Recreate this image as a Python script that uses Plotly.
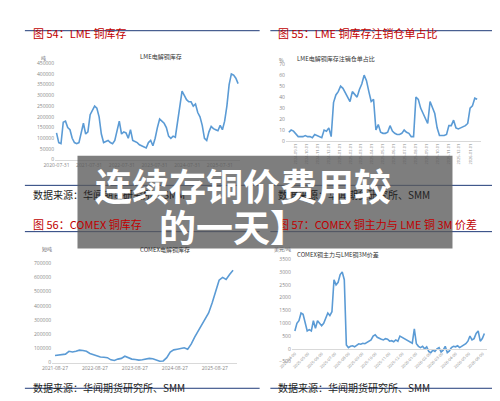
import plotly.graph_objects as go
import pandas as pd

lme_inv = [125,80,75,175,180,150,140,100,80,75,80,120,170,120,130,210,230,250,240,200,120,80,85,90,80,75,90,130,180,120,130,125,100,140,90,85,80,70,65,60,55,80,90,65,100,150,190,180,170,150,110,100,110,105,180,240,320,300,280,270,270,250,260,220,200,160,100,90,130,155,145,140,135,160,140,180,250,350,400,395,380,355]
lme_ratio = [8,10,9,6,4,4,4,5,4,4,3,6,5,4,3,10,9,12,4,35,42,45,50,48,44,40,36,45,42,40,47,52,60,55,45,36,38,10,15,8,7,7,8,14,9,7,6,6,7,10,8,7,4,4,40,38,30,25,20,16,36,30,25,12,5,5,5,6,14,14,19,12,11,12,13,14,16,30,32,39,38]
comex_inv = [50,55,60,60,80,75,80,88,85,80,65,55,45,40,38,35,20,15,25,30,45,35,25,22,18,20,25,30,28,20,10,12,35,75,90,95,100,105,95,130,180,220,270,300,350,420,500,580,600,585,620,650]
spread = [700,1000,1100,1400,1350,1000,700,750,700,1100,800,1100,1000,900,1000,1200,1400,1300,1450,2700,2500,2600,2900,3000,2700,150,50,100,120,80,150,200,180,220,200,250,300,350,500,550,450,400,380,350,400,380,300,320,280,350,300,500,450,400,350,300,250,220,780,200,100,50,100,0,80,-100,-150,-50,-100,0,50,-120,-50,100,-150,-80,50,100,80,120,50,100,150,200,300,500,350,400,600,700,300,400,600]

d1 = pd.date_range("2020-07-31", "2026-02-20", periods=len(lme_inv))
d2 = pd.date_range("2024-08-13", "2026-01-20", periods=len(lme_ratio))
d3 = pd.date_range("2021-08-27", "2026-02-10", periods=len(comex_inv))
d4 = pd.date_range("2025-04-01", "2026-06-05", periods=len(spread))

W, H = 500, 401
def xd(a, b): return [a / W, b / W]
def yd(top, bot): return [1 - bot / H, 1 - top / H]

fig = go.Figure()
line = dict(color="#5b9bd5", width=1.6)
fig.add_trace(go.Scatter(x=d1, y=[v * 1000 for v in lme_inv], mode="lines", line=line, xaxis="x", yaxis="y"))
fig.add_trace(go.Scatter(x=d2, y=lme_ratio, mode="lines", line=line, xaxis="x2", yaxis="y2"))
fig.add_trace(go.Scatter(x=d3, y=[v * 1000 for v in comex_inv], mode="lines", line=line, xaxis="x3", yaxis="y3"))
fig.add_trace(go.Scatter(x=d4, y=spread, mode="lines", line=line, xaxis="x4", yaxis="y4"))

tf = dict(size=5, color="#888")
ax = dict(showgrid=False, zeroline=False, showline=True, linecolor="#d9d9d9", ticks="", tickfont=tf)
ay = dict(showgrid=False, zeroline=False, showline=False, tickfont=tf, tickformat="d")
fig.update_layout(
    width=W, height=H, margin=dict(l=0, r=0, t=0, b=0), showlegend=False,
    paper_bgcolor="white", plot_bgcolor="white",
    xaxis=dict(ax, anchor="y", domain=xd(35, 225), tickvals=[f"{y}-07-31" for y in range(2020, 2026)], tickformat="%Y-%m-%d", range=["2020-07-15", "2026-03-15"]),
    yaxis=dict(ay, anchor="x", domain=yd(53, 151), range=[0, 450000], dtick=50000),
    xaxis2=dict(ax, anchor="y2", domain=xd(272, 472), tickformat="%Y-%m-%d", dtick="M1", tickangle=-90, range=["2024-08-05", "2026-01-30"], tickfont=dict(size=4, color="#888")),
    yaxis2=dict(ay, anchor="x2", domain=yd(54, 132), range=[0, 70], dtick=10),
    xaxis3=dict(ax, anchor="y3", domain=xd(32, 222), tickvals=[f"{y}-08-27" for y in range(2021, 2026)], tickformat="%Y-%m-%d", range=["2021-08-01", "2026-03-20"]),
    yaxis3=dict(ay, anchor="x3", domain=yd(256, 357), range=[0, 700000], dtick=100000),
    xaxis4=dict(ax, anchor="free", domain=xd(278, 478), tickformat="%Y-%m-00", dtick="M1", tickangle=-45, range=["2025-03-25", "2026-06-10"], position=1 - 343 / H, tickfont=dict(size=4, color="#888")),
    yaxis4=dict(ay, anchor="x4", domain=yd(252, 356), range=[-500, 3500], dtick=500),
)

red = "#c00000"
blue = "#1f3a78"
anns = []
def A(x, y, t, size=10, color="#222", **k):
    anns.append(dict(x=x / W, y=1 - y / H, xref="paper", yref="paper", text=t, showarrow=False,
                     font=dict(size=size, color=color, family="Noto Sans CJK SC"), **k))
A(10, 12, "图 54：LME 铜库存", 11, red, xanchor="left")
A(262, 12, "图 55：LME 铜库存注销仓单占比", 11, red, xanchor="left")
A(10, 216, "图 56：COMEX 铜库存", 11, red, xanchor="left")
A(262, 216, "图 57：COMEX 铜主力与 LME 铜 3M 价差", 11, red, xanchor="left")
for x, y in [(10, 186), (262, 186), (10, 392), (262, 392)]:
    A(x, y, "数据来源：华闻期货研究所、SMM", 10, "#222", xanchor="left")
A(120, 40, "LME电解铜库存", 6, "#333")
A(365, 42, "LME电解铜库存注销仓单占比", 6, "#333")
A(120, 242, "COMEX电解铜库存", 6, "#333")
A(370, 247, "COMEX铜主力与LME铜3M价差", 6, "#333")
A(18, 42, "吨", 5, "#666")
A(267, 44, "%", 5, "#666")
A(20, 242, "短吨", 5, "#666")
A(268, 242, "美元/吨", 5, "#666")
A(228, 177, "<b>连续存铜价费用较</b>", 37, "white", xanchor="center", yanchor="middle")
A(218, 218, "<b>的一天】</b>", 37, "white", xanchor="center", yanchor="middle")

shapes = []
for y in [20, 224, 177, 383]:
    for x0, x1 in [(4, 245), (256, 496)]:
        shapes.append(dict(type="line", xref="paper", yref="paper", x0=x0 / W, x1=x1 / W, y0=1 - y / H, y1=1 - y / H, line=dict(color=blue, width=1)))
shapes.append(dict(type="rect", xref="paper", yref="paper", x0=58 / W, x1=443 / W, y0=1 - 241 / H, y1=1 - 147 / H, fillcolor="rgba(90,90,90,0.78)", line=dict(width=0), layer="above"))
fig.update_layout(annotations=anns, shapes=shapes)
fig.write_html("out.html")
